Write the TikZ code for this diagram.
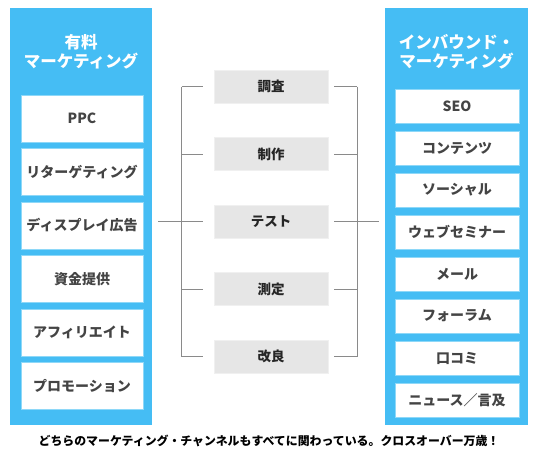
\documentclass[tikz,border=0pt]{standalone}
\usepackage{fontspec}
\setmainfont{Noto Sans CJK JP}
\usepackage{xcolor}
\usepackage{tikz}
\usetikzlibrary{calc,positioning}
\definecolor{skyx}{HTML}{45BDF4}
\definecolor{skyedge}{HTML}{8ED8F8}
\definecolor{txtx}{HTML}{444444}
\definecolor{cyclebg}{HTML}{E6E6E6}
\definecolor{linex}{HTML}{8A8A8A}
\tikzset{
  panel/.style={fill=skyx,draw=none,minimum width=142pt,minimum height=416.5pt,inner sep=0pt},
  ptitle/.style={text=white,font=\fontsize{16.5}{18.5}\selectfont\bfseries,align=center},
  item/.style={fill=white,draw=skyedge,line width=0.6pt,inner sep=0pt,text=txtx,font=\fontsize{14}{16}\selectfont\bfseries},
  lbox/.style={item,minimum width=122pt,minimum height=47pt},
  rbox/.style={item,minimum width=124pt,minimum height=34pt},
  stepbox/.style={fill=cyclebg,draw=cyclebg!60!white,line width=0.6pt,minimum width=114pt,minimum height=33pt,inner sep=0pt,text=black!85,font=\fontsize{13.5}{15}\selectfont\bfseries},
  link/.style={linex,line width=0.8pt}
}
\begin{document}
\begin{tikzpicture}[x=1pt,y=-1pt]
\useasboundingbox (0,0) rectangle (540,456);
% two channel panels
\node[panel] (paid) at (81,216.25) {};
\node[panel,minimum width=143pt] (inbound) at (456.5,216.25) {};
\node[ptitle] (paidtitle) at (81,52) {有料\\マーケティング};
\node[ptitle] (inboundtitle) at (456.5,52) {インバウンド・\\マーケティング};
% paid items
\foreach \t [count=\i from 0] in {PPC,リターゲティング,ディスプレイ広告,資金提供,アフィリエイト,プロモーション}
  \node[lbox] (paid\i) at (82,{118.5+53.5*\i}) {\t};
% inbound items
\foreach \t [count=\i from 0] in {SEO,コンテンツ,ソーシャル,ウェブセミナー,メール,フォーラム,口コミ,ニュース／言及}
  \node[rbox] (in\i) at (457,{106+42*\i}) {\t};
% cycle in the middle
\foreach \t [count=\i] in {調査,制作,テスト,測定,改良}
  \node[stepbox] (p\i) at (271,{86.5+67.5*(\i-1)}) {\t};
\foreach \i in {1,...,5} {
  \draw[link] ([xshift=-11pt]p\i.west) -- ([xshift=-32pt]p\i.west);
  \draw[link] ([xshift=6pt]p\i.east) -- ([xshift=29pt]p\i.east);
}
\draw[link] ([xshift=-32pt]p1.west) -- ([xshift=-32pt]p5.west);
\draw[link] ([xshift=29pt]p1.east) -- ([xshift=29pt]p5.east);
\draw[link] ([xshift=6pt]p3.west -| paid.east) -- ([xshift=-32pt]p3.west);
\draw[link] ([xshift=29pt]p3.east) -- ([xshift=-6pt]p3.east -| inbound.west);
% caption
\node[font=\fontsize{11.9}{13}\selectfont\bfseries,text=black] (caption) at (269,441) {どちらのマーケティング・チャンネルもすべてに関わっている。クロスオーバー万歳！};
\end{tikzpicture}
\end{document}
